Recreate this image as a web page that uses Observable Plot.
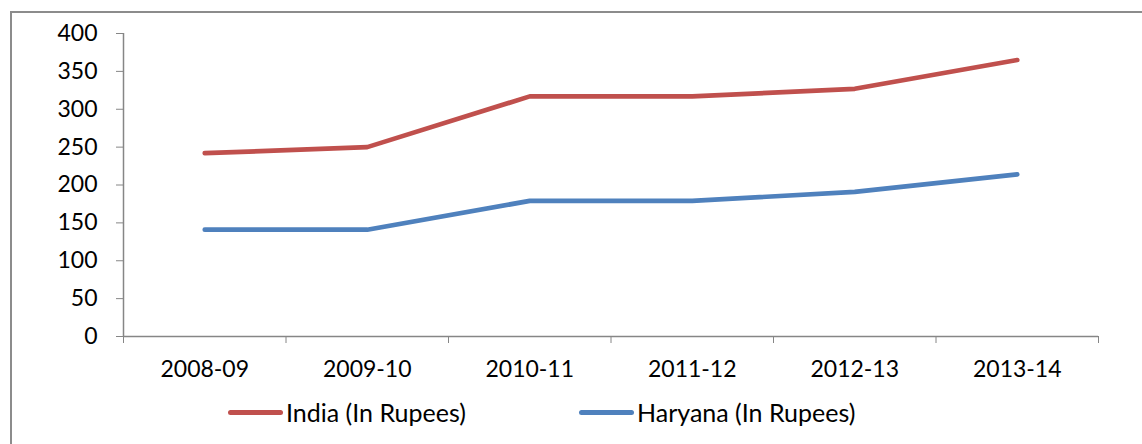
<!DOCTYPE html>
<html>
<head>
<meta charset="utf-8">
<script src="https://cdn.jsdelivr.net/npm/d3@7"></script>
<script src="https://cdn.jsdelivr.net/npm/@observablehq/plot@0.6"></script>
<style>
  html, body { margin: 0; padding: 0; background: #fff; }
  #wrap { position: relative; width: 1142px; height: 444px; overflow: hidden; font-family: Lato, "Open Sans", sans-serif; }
  #frame { position: absolute; left: 10px; top: 11px; width: 1200px; height: 500px; border-left: 2px solid #8c8c8c; border-top: 2px solid #8c8c8c; box-sizing: border-box; }
  #chart { position: absolute; left: 0; top: 0; }
  .leg { position: absolute; top: 397px; display: flex; align-items: center; height: 30px; font-size: 25px; color: #000; white-space: nowrap; }
  .sw { width: 55px; height: 5px; border-radius: 3px; margin-right: 3px; }
</style>
</head>
<body>
<div id="wrap">
  <div id="frame"></div>
  <div id="chart"></div>
  <div id="legend"></div>
</div>
<script>
const categories = ["2008-09", "2009-10", "2010-11", "2011-12", "2012-13", "2013-14"];
const indiaValues = [242, 250, 317, 317, 327, 365];
const haryanaValues = [141, 141, 179, 179, 191, 214];
const yTicks = [0, 50, 100, 150, 200, 250, 300, 350, 400];
const seriesNames = ["India (In Rupees)", "Haryana (In Rupees)"];
const seriesColors = ["#C0504D", "#4F81BD"];

const rows = [];
categories.forEach((c, i) => {
  rows.push({idx: i + 0.5, value: indiaValues[i], series: seriesNames[0]});
  rows.push({idx: i + 0.5, value: haryanaValues[i], series: seriesNames[1]});
});
const boundaries = d3.range(0, categories.length + 1);
const centers = categories.map((c, i) => i + 0.5);

const axisGray = "#868686";

const chart = Plot.plot({
  width: 1142,
  height: 396,
  marginLeft: 123,
  marginRight: 44,
  marginTop: 33,
  marginBottom: 60,
  style: {fontFamily: "Lato, 'Open Sans', sans-serif", fontSize: "23px", color: "#000", background: "transparent", overflow: "visible"},
  x: {domain: [0, categories.length], axis: null},
  y: {domain: [0, 400], axis: null},
  color: {domain: seriesNames, range: seriesColors},
  marks: [
    Plot.ruleX([0], {stroke: axisGray, strokeWidth: 1.5}),
    Plot.ruleY([0], {stroke: axisGray, strokeWidth: 1.5}),
    Plot.axisY({ticks: yTicks, tickSize: 7, tickPadding: 19, stroke: axisGray, fill: "#000", fontSize: 23, label: null}),
    Plot.axisX({ticks: boundaries, tickSize: 7, tickFormat: () => "", stroke: axisGray, label: null}),
    Plot.axisX({ticks: centers, tickSize: 0, tickPadding: 24, tickFormat: (d) => categories[Math.round(d - 0.5)], fill: "#000", fontSize: 23, label: null}),
    Plot.line(rows, {x: "idx", y: "value", z: "series", stroke: "series", strokeWidth: 4.7, strokeLinecap: "round", strokeLinejoin: "round"})
  ]
});
document.getElementById("chart").appendChild(chart);

const legend = document.getElementById("legend");
const legendLefts = [228, 579];
seriesNames.forEach((name, i) => {
  const item = document.createElement("div");
  item.className = "leg";
  item.style.left = legendLefts[i] + "px";
  const sw = document.createElement("div");
  sw.className = "sw";
  sw.style.background = seriesColors[i];
  const tx = document.createElement("span");
  tx.textContent = name;
  item.appendChild(sw);
  item.appendChild(tx);
  legend.appendChild(item);
});
</script>
</body>
</html>
